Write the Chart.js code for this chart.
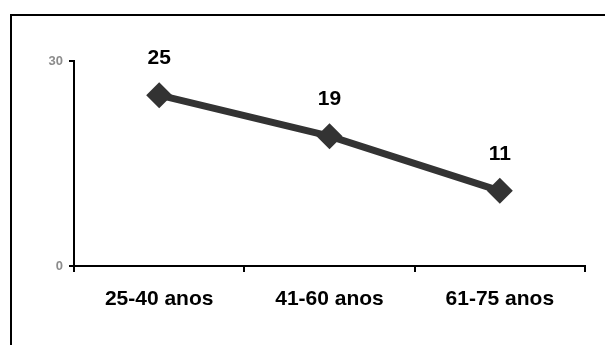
<!DOCTYPE html>
<html>
<head>
<meta charset="utf-8">
<script src="https://cdn.jsdelivr.net/npm/chart.js@4/dist/chart.umd.min.js"></script>
<style>
  html, body { margin: 0; padding: 0; background: #fff; }
  #wrap { width: 605px; height: 345px; position: relative; }
</style>
</head>
<body>
<div id="wrap"><canvas id="c" width="605" height="345"></canvas></div>
<script>
const categories = ['25-40 anos', '41-60 anos', '61-75 anos'];
const values = [25, 19, 11];
const yTicks = [0, 30];

const FONT = '"Liberation Sans", Arial, sans-serif';

// Open frame: top and left border lines
const framePlugin = {
  id: 'frame',
  beforeDraw(chart) {
    const ctx = chart.ctx;
    ctx.save();
    ctx.strokeStyle = '#000';
    ctx.lineWidth = 2;
    ctx.beginPath();
    ctx.moveTo(11, 345);
    ctx.lineTo(11, 15);
    ctx.lineTo(605, 15);
    ctx.stroke();
    ctx.restore();
  }
};

// Value labels above each point
const valueLabels = {
  id: 'valueLabels',
  afterDatasetsDraw(chart) {
    const ctx = chart.ctx;
    const meta = chart.getDatasetMeta(0);
    ctx.save();
    ctx.font = 'bold 21px ' + FONT;
    ctx.fillStyle = '#000';
    ctx.textAlign = 'center';
    ctx.textBaseline = 'middle';
    meta.data.forEach((pt, i) => {
      ctx.fillText(String(values[i]), pt.x, pt.y - 37);
    });
    ctx.restore();
  }
};

new Chart(document.getElementById('c'), {
  type: 'line',
  data: {
    labels: categories,
    datasets: [{
      data: values,
      borderColor: '#333333',
      backgroundColor: '#333333',
      borderWidth: 7,
      pointStyle: 'rectRot',
      pointRadius: 13,
      pointHoverRadius: 13,
      pointBorderWidth: 0,
      pointBackgroundColor: '#333333',
      tension: 0
    }]
  },
  options: {
    responsive: false,
    animation: false,
    layout: { padding: { left: 0, right: 20, top: 61, bottom: 0 } },
    plugins: { legend: { display: false }, tooltip: { enabled: false } },
    scales: {
      x: {
        offset: true,
        afterFit(scale) { scale.height = 79; },
        border: { display: true, color: '#000', width: 2 },
        grid: {
          offset: true,
          drawOnChartArea: false,
          drawTicks: true,
          tickLength: 6,
          color: '#000',
          lineWidth: 2
        },
        ticks: {
          color: '#000',
          font: { family: FONT, size: 21, weight: 'bold' },
          padding: 15,
          maxRotation: 0
        }
      },
      y: {
        min: 0,
        max: 30,
        afterFit(scale) { scale.width = 74; },
        afterBuildTicks(scale) { scale.ticks = yTicks.map(v => ({ value: v })); },
        border: { display: true, color: '#000', width: 2 },
        grid: {
          drawOnChartArea: false,
          drawTicks: true,
          tickLength: 5,
          color: '#000',
          lineWidth: 2
        },
        ticks: {
          color: '#8c8c8c',
          font: { family: FONT, size: 13, weight: 'bold' },
          padding: 6
        }
      }
    }
  },
  plugins: [framePlugin, valueLabels]
});
</script>
</body>
</html>
